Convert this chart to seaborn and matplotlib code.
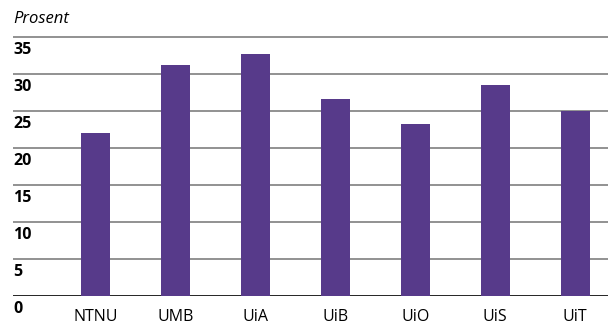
import pandas as pd
import matplotlib
matplotlib.use("Agg")
import matplotlib.pyplot as plt
import seaborn as sns

# ======= data =======
schools = ['NTNU', 'UMB', 'UiA', 'UiB', 'UiO', 'UiS', 'UiT']
prosent = [22.0, 31.2, 32.7, 26.6, 23.2, 28.5, 25.0]
y_ticks = [0, 5, 10, 15, 20, 25, 30, 35]

df = pd.DataFrame({'school': schools, 'value': prosent})

# ======= style =======
sns.set_theme(style="white")
plt.rcParams['font.family'] = ['Open Sans', 'DejaVu Sans']

fig = plt.figure(figsize=(6.08, 3.33), dpi=100)
ax = fig.add_axes([13 / 608, 1 - 296.3 / 333, 1 - 13 / 608, 36 * 7.418 / 333])

# gridlines
for t in y_ticks:
    ax.axhline(t, color='black' if t == 0 else '#7f7f7f', lw=1.2, zorder=0)

sns.barplot(data=df, x='school', y='value', color='#573a8a', saturation=1,
            width=0.36, linewidth=0, ax=ax, zorder=2)

ax.set_xlim(-1.03, 6.41)
ax.set_ylim(0, 36)
sns.despine(ax=ax, left=True, bottom=True, top=True, right=True)
ax.set_yticks([])
ax.set_xlabel('')
ax.set_ylabel('')
ax.tick_params(axis='x', length=0, pad=9, labelsize=11.5, colors='black')

# y labels sit under each gridline, at the left edge
for t in y_ticks:
    ax.text(0.0, t - 1.75, str(t), transform=ax.get_yaxis_transform(),
            ha='left', va='center', fontsize=11.5, fontweight='bold',
            color='black', clip_on=False)

fig.text(13 / 608, 1 - 19 / 333, 'Prosent', ha='left', va='center',
         fontsize=12, fontstyle='italic', color='black')

plt.savefig('out.png', dpi=100)
